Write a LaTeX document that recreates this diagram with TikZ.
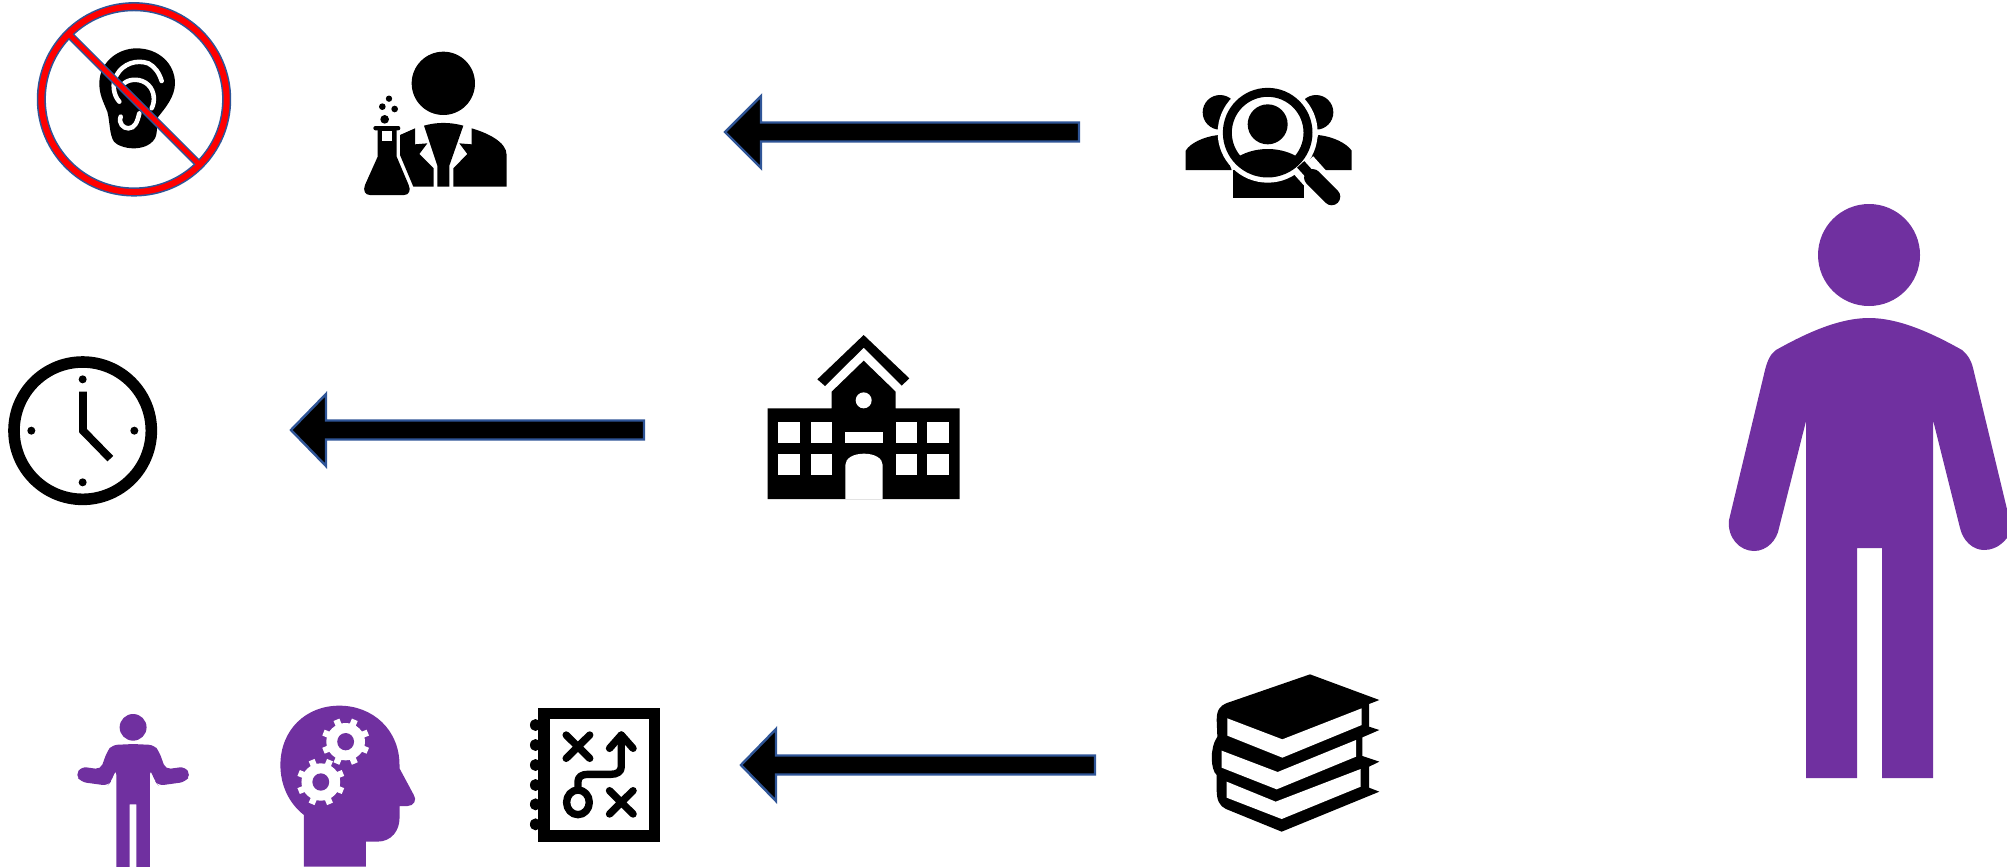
\documentclass[tikz,border=0pt]{standalone}
\definecolor{violetfig}{HTML}{7030A0}
\definecolor{bluefig}{HTML}{2F5597}
\tikzset{
	blockarrow/.style={draw=bluefig,fill=black,line width=1.4pt,line join=miter},
	violetshape/.style={fill=violetfig},
	earline/.style={draw=white,line width=2.6pt,line cap=round},
	mapline/.style={draw=black,line width=4.2pt,line cap=round,line join=round},
}
\begin{document}
\begin{tikzpicture}[x=0.02cm,y=-0.02cm]
	\clip (0,0) rectangle (2007,866);
	\foreach \xtip/\xbase/\xtail/\yarrow in {725/761/1079/132,291/326/644/430,741/776/1095/765}
		\draw[blockarrow] (\xtip,\yarrow)--(\xbase,\yarrow-36)--(\xbase,\yarrow-9.5)--(\xtail,\yarrow-9.5)--(\xtail,\yarrow+9.5)--(\xbase,\yarrow+9.5)--(\xbase,\yarrow+36)--cycle;
	\begin{scope}[shift={(20,0)},scale=1/3]
		\fill (350,145) .. controls (415,145) and (465,190) .. (465,250) .. controls (465,290) and (435,325) .. (415,350) .. controls (408,365) and (415,395) .. (405,415) .. controls (390,440) and (360,445) .. (340,445) .. controls (315,445) and (290,435) .. (282,425) .. controls (268,405) and (270,365) .. (262,335) .. controls (250,305) and (238,285) .. (238,250) .. controls (238,190) and (290,145) .. (350,145) -- cycle;
		\draw[earline] (298,305) .. controls (280,285) and (275,250) .. (290,225) .. controls (310,190) and (350,178) .. (385,190) .. controls (405,200) and (418,220) .. (425,243);
		\draw[earline] (312,250) .. controls (330,235) and (365,235) .. (385,255) .. controls (405,275) and (405,305) .. (395,325);
		\draw[earline] (302,350) .. controls (295,370) and (310,385) .. (325,385) .. controls (345,385) and (352,365) .. (358,340);
		\draw[bluefig,line width=5.2pt] (342,298) circle (278);
		\draw[bluefig,line width=4.4pt] (145.4,101.4)--(538.6,494.6);
		\draw[red,line width=3.4pt] (342,298) circle (278);
		\draw[red,line width=2.7pt] (145.4,101.4)--(538.6,494.6);
		\fill (1270,250) circle (95);
		\fill (1212,377) .. controls (1250,366) and (1290,366) .. (1330,377) -- (1288,497)--(1288,560)--(1252,560)--(1252,497)--cycle;
		\fill (1185,385)--(1185,433)--(1222,430)--(1198,462)--(1241,505)--(1241,560)--(1180,560)--(1140,465)--(1140,405)--cycle;
		\fill (1355,385) .. controls (1400,398) and (1460,425) .. (1460,465) -- (1460,560)--(1300,560)--(1300,505)--(1342,462)--(1318,430)--(1355,433)--cycle;
		\fill (1073,390)--(1073,470)--(1035,555) .. controls (1028,572) and (1036,585) .. (1050,585) -- (1152,585) .. controls (1166,585) and (1174,572) .. (1166,555) -- (1130,470)--(1130,390)--cycle;
		\fill[rounded corners=1.2pt] (1060,378) rectangle (1141,391);
		\fill[white] (1085,393) rectangle (1115,422);
		\fill (1094,358) circle (13);
		\fill (1107,296) circle (9.5);
		\fill (1087,320) circle (10);
		\fill (1124,327) circle (10);
	\end{scope}
	\begin{scope}[shift={(1170,70)},scale=1/3]
		\fill (150,127) circle (52);
		\fill (438,127) circle (52);
		\fill (47,300)--(47,242) .. controls (60,220) and (100,200) .. (145,195) -- (185,300)--cycle;
		\fill (545,300)--(545,242) .. controls (530,220) and (490,200) .. (445,195) -- (405,300)--cycle;
		\fill (190,300) rectangle (402,385);
		\fill[white] (293,188) circle (150);
		\draw[white,line width=15pt] (400,285)--(485,380);
		\draw[line width=5.1pt] (293,188) circle (121);
		\fill (293,163) circle (60);
		\begin{scope}
			\clip (293,188) circle (121);
			\fill (293,340) ellipse (140 and 103);
		\end{scope}
		\draw[line width=5.5pt] (392,283)--(430,325);
		\draw[line width=9.8pt,line cap=round] (428,323)--(485,380);
	\end{scope}
	\begin{scope}[shift={(0,340)},scale=1/3]
		\draw[line width=6.6pt] (248,272) circle (206);
		\foreach \xdot/\ydot in {248/118,248/427,94/272,403/272}
			\fill (\xdot,\ydot) circle (12);
		\draw[line width=4.5pt,line join=miter] (249,155)--(249,272)--(331,356);
	\end{scope}
	\begin{scope}[shift={(780,320)},scale=1/3]
		\fill (251,45)--(388,175)--(365,197)--(251,83)--(135,198)--(112,178)--cycle;
		\fill (251,122)--(347,215)--(347,265)--(539,265)--(539,537)--(-37,537)--(-37,265)--(155,265)--(155,215)--cycle;
		\fill[white] (251,241) circle (24);
		\fill[white] (196,337) rectangle (308,370);
		\foreach \xwin in {-5,92,347,442}
			\foreach \ywin in {305,401}
				\fill[white] (\xwin,\ywin) rectangle ++(65,65);
		\fill[white] (196,537)--(196,435) .. controls (196,415) and (220,401) .. (252,401) .. controls (284,401) and (308,415) .. (308,435) -- (308,537)--cycle;
	\end{scope}
	\begin{scope}[shift={(1140,620)},scale=1/3]
		\fill (510,163)--(718,240)--(687,252)--(687,320)--(718,330)--(667,352)--(667,408)--(718,425)--(687,440)--(687,503)--(718,515)--(425,635)--(258,567) .. controls (238,558) and (230,540) .. (230,510) -- (230,465) .. controls (212,450) and (208,385) .. (232,350) -- (230,300) .. controls (230,270) and (240,258) .. (258,250) -- cycle;
		\fill[white] (262,295)--(427,358)--(665,265)--(665,315)--(427,413)--(262,347)--cycle;
		\fill[white] (245,392)--(413,456)--(648,360)--(648,410)--(410,508)--(245,443)--cycle;
		\fill[white] (260,485)--(407,545)--(662,447)--(662,500)--(425,597)--(260,533)--cycle;
	\end{scope}
	\begin{scope}[shift={(30,680)},xscale=1/2.376,yscale=1/3]
		\fill[violetfig] (245,142) ellipse (32 and 40);
		\fill[violetshape,rounded corners=3pt] (245,192)--(195,195)--(183,215)--(168,268)--(122,260)--(108,285)--(122,306)--(185,317)--(192,305)--(205,268)--(205,620)--(237,620)[sharp corners]--(237,373)--(253,373)--(253,620)[rounded corners=3pt]--(285,620)--(285,268)--(298,305)--(305,317)--(368,306)--(382,285)--(368,260)--(322,268)--(307,215)--(295,195)--cycle;
		\fill[violetshape] (651,405)--(651,560)--(798,560)--(798,485)--(825,485) .. controls (860,485) and (878,450) .. (878,415) -- (878,378)--(897,378) .. controls (912,378) and (920,360) .. (912,345) -- (878,265)--(878,255) .. controls (878,150) and (815,77) .. (735,77) .. controls (655,77) and (595,150) .. (595,255) .. controls (595,315) and (615,370) .. (651,405) -- cycle;
		\foreach \xgear/\ygear in {750/185,691/306}{
			\begin{scope}[shift={(\xgear,\ygear)}]
				\fill[white] (0,0) ellipse (46 and 56);
				\foreach \agear in {22.5,67.5,...,360}
					\draw[white,line width=3.6pt] (0,0)--(\agear:57 and 71);
				\fill[violetshape] (0,0) ellipse (20 and 26);
			\end{scope}
		}
		\fill (1208,83) rectangle (1498,487);
		\fill[white] (1236,118) rectangle (1471,451);
		\foreach \yring in {135,195,255,315,373,433}
			\fill (1201,\yring) ellipse (13 and 18);
		\draw[mapline] (1274,165)--(1330,235) (1330,165)--(1274,235);
		\draw[mapline] (1377,332)--(1433,402) (1433,332)--(1377,402);
		\draw[mapline] (1302,325)--(1302,305) .. controls (1302,290) and (1312,283) .. (1325,283) -- (1380,283) .. controls (1395,283) and (1405,275) .. (1405,260) -- (1405,165);
		\draw[mapline] (1377,205)--(1405,165)--(1433,205);
		\draw[mapline] (1302,367) ellipse (27 and 37);
	\end{scope}
	\def\xbody{1869};
	\fill[violetshape] (\xbody,255) circle (51);
	\fill[violetshape] (\xbody,318) .. controls (1840,318) and (1808,332) .. (1776,350) .. controls (1770,354) and (1767,362) .. (1765,370) -- (1729,520) .. controls (1727,538) and (1740,551) .. (1754,551) .. controls (1767,551) and (1777,540) .. (1779,528) -- (1806,421)--(1806,778)--(1857,778)--(1857,548)--(1882,548)--(1882,778)--(1933,778)--(1933,420)--(1960,528) .. controls (1963,541) and (1973,550) .. (1984,550) .. controls (1998,550) and (2007,540) .. (2012,530) -- (1973,368) .. controls (1971,360) and (1968,355) .. (1962,350) .. controls (1930,332) and (1898,318) .. (\xbody,318) -- cycle;
\end{tikzpicture}
\end{document}
